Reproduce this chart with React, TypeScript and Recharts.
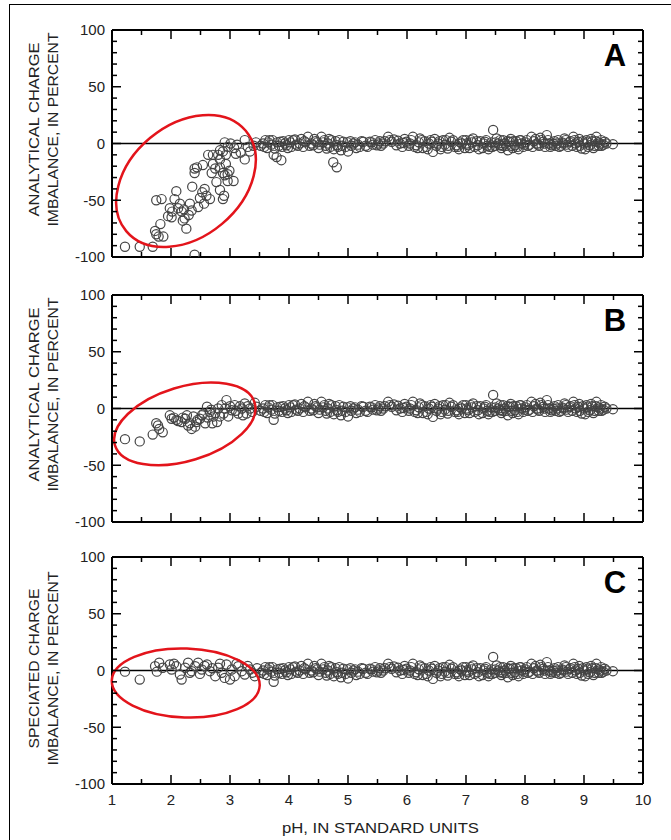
import React from 'react';
import { ScatterChart, Scatter, XAxis, YAxis, ReferenceLine, ReferenceDot } from 'recharts';

const FONT = '"Liberation Sans", Arial, Helvetica, sans-serif';

// ---- axis ticks ----
const xTickValues = [1, 1.5, 2, 2.5, 3, 3.5, 4, 4.5, 5, 5.5, 6, 6.5, 7, 7.5, 8, 8.5, 9, 9.5, 10];
const xLabelValues = [1, 2, 3, 4, 5, 6, 7, 8, 9, 10];
const yTickValues = [-100, -90, -80, -70, -60, -50, -40, -30, -20, -10, 0, 10, 20, 30, 40, 50, 60, 70, 80, 90, 100];
const yLabelValues = [-100, -50, 0, 50, 100];

// ---- data: [pH, imbalance %] ----
const neutralPoints: [number, number][] = [
  [3.52, -2], [3.56, 0], [3.6, 3], [3.63, -4], [3.67, 2.9], [3.7, -1], [3.74, -10], [3.76, -4.4], [3.8, 1], [3.85, 1.5],
  [3.88, -3], [3.93, 0], [3.96, -1.5], [4.0, 3], [4.04, -3], [4.07, 2.9], [4.12, -1], [4.18, 0], [4.21, 4], [4.24, -3],
  [4.28, 1], [4.32, 5.9], [4.35, -2], [4.41, -1.5], [4.45, 2], [4.5, -4], [4.55, 5.9], [4.58, 1], [4.62, -2], [4.64, -4.4],
  [4.68, 4], [4.72, 2.9], [4.76, -5], [4.81, -1.5], [4.85, 3], [4.88, -6], [4.92, 1.5], [4.96, -3], [5.0, -7], [5.04, 2],
  [5.09, 0], [5.14, -4], [5.2, -3], [5.26, 1.5], [5.3, -2], [5.37, 1.5], [5.42, -1], [5.46, 3], [5.51, 0], [5.56, -2],
  [5.62, 2], [5.68, 5.9], [5.74, 1.5], [5.78, 3.5], [5.82, -1.5], [5.88, 0], [5.92, -3], [5.96, 4], [5.99, 1.5], [6.03, -2],
  [6.07, 3], [6.1, 5.9], [6.13, -3], [6.16, -1.5], [6.2, 1], [6.22, 4.4], [6.27, -4], [6.3, 2], [6.33, -3], [6.37, 0],
  [6.42, 1.5], [6.44, -7.4], [6.47, 4], [6.5, -2], [6.53, 0], [6.57, -5], [6.61, 2.9], [6.64, -1], [6.69, -4.4], [6.72, 5],
  [6.75, 1.5], [6.78, 2.9], [6.81, -3], [6.84, -1.5], [6.86, -3], [6.9, 1], [6.95, 2.9], [6.98, -4], [7.01, 0], [7.04, -1.5],
  [7.08, 3], [7.12, 4.4], [7.15, -3], [7.2, -1.5], [7.24, 2], [7.28, -4], [7.32, 1.5], [7.36, -2], [7.4, -3], [7.43, 1],
  [7.46, 12], [7.49, -2], [7.52, 4.4], [7.55, 0], [7.57, -1.5], [7.6, -4], [7.63, 2.9], [7.66, 0], [7.68, -2], [7.71, -6],
  [7.74, 1.5], [7.77, -2], [7.8, 2], [7.83, -1.5], [7.87, -3], [7.91, 2.9], [7.94, 0], [7.97, -3], [8.01, 1], [8.05, -2],
  [8.11, 5.9], [8.15, 2], [8.2, 0], [8.24, -2], [8.28, 3], [8.31, 1.5], [8.34, -3], [8.37, 7.4], [8.41, 0], [8.45, -1.5],
  [8.5, 2], [8.54, 0], [8.58, -3], [8.63, 1], [8.67, 4.4], [8.7, -1], [8.73, -3], [8.77, 2], [8.82, 5.9], [8.86, 0],
  [8.9, 1.5], [8.93, -2], [8.96, -4.4], [9.0, 0], [9.04, 2.9], [9.07, -3], [9.1, -1.5], [9.14, 2], [9.18, -2], [9.21, 5.9],
  [9.24, 1], [9.27, 0], [9.3, -2], [9.35, 1.5], [9.49, -0.6],
];

const neutralMore: [number, number][] = [
  [3.58, -3], [3.65, 1], [3.72, 3], [3.83, -2], [3.9, 2], [3.98, -4], [4.02, 1], [4.1, 3.5], [4.15, -2], [4.26, 2],
  [4.38, 0], [4.43, 4], [4.48, 1], [4.52, -1], [4.6, 3], [4.66, 0], [4.7, -3], [4.79, 2], [4.83, -3], [4.9, -2],
  [4.99, 1], [5.06, -2], [5.12, 1], [5.17, -1], [5.23, 2], [5.33, -3], [5.4, 1], [5.49, -1.5], [5.54, 2], [5.6, 0],
  [5.71, 3], [5.85, 2.5], [5.94, 0.5], [6.05, 0], [6.18, -4], [6.25, 3], [6.35, -5], [6.4, 3], [6.55, 2], [6.59, -3],
  [6.66, 3], [6.7, -2], [6.88, -5], [6.93, 0], [7.0, 3], [7.06, -4], [7.1, 1], [7.18, 2], [7.22, -5], [7.3, 0],
  [7.34, 3], [7.38, -5], [7.45, -3], [7.5, 1], [7.58, 3], [7.62, -2], [7.7, 2], [7.76, 4], [7.79, -4], [7.85, 2],
  [7.89, -5], [7.93, 3], [7.99, -1], [8.03, 3], [8.08, -1], [8.13, -3], [8.18, 4], [8.22, -1], [8.26, 5], [8.33, 0],
  [8.39, 3], [8.43, -3], [8.48, 0], [8.52, -2], [8.56, 3], [8.61, -2], [8.65, 0], [8.69, 3], [8.75, 1], [8.8, -2],
  [8.84, 3], [8.88, -3], [8.92, 4], [8.98, 2], [9.02, -5], [9.06, 1], [9.12, 4], [9.16, -4], [9.2, 2], [9.25, -2],
  [9.29, 3], [9.33, -1], [9.38, 0],
];

const acidA: [number, number][] = [
  [1.22, -91], [1.47, -91], [1.69, -91], [2.4, -98], [1.73, -77], [1.75, -80], [1.79, -82], [1.87, -82], [1.82, -71],
  [1.75, -50], [1.84, -49], [2.09, -42], [2.06, -49], [1.98, -57], [2.01, -65], [1.95, -64], [2.02, -60], [2.12, -57],
  [2.15, -53], [2.18, -60], [2.26, -75], [2.23, -66], [2.2, -68], [2.22, -58], [2.3, -63], [2.32, -53], [2.35, -59],
  [2.36, -38], [2.4, -26], [2.44, -21], [2.4, -22], [2.54, -19], [2.63, -10], [2.49, -48], [2.53, -43], [2.57, -40],
  [2.46, -56], [2.6, -46], [2.56, -53], [2.66, -49], [2.71, -18], [2.69, -26], [2.75, -22], [2.77, -34], [2.83, -41],
  [2.88, -49], [2.9, -46], [2.8, -10], [2.83, -14], [2.88, -26], [2.93, -18], [2.91, -28], [2.96, -27], [2.99, -24],
  [2.96, -33], [3.06, -33], [2.83, -6], [2.88, -7], [2.93, -10], [2.91, 1], [2.96, -3], [3.01, 0], [3.07, -4],
  [3.12, -1], [3.1, -9], [3.18, -8], [3.25, 3], [3.25, -14], [3.3, -3], [3.34, -7], [3.4, -2], [3.44, 1], [2.83, -21],
  [2.71, -10],
];
const extraA: [number, number][] = [[3.79, -12], [3.87, -14.7], [4.75, -16.5], [4.81, -21]];

const acidB: [number, number][] = [
  [1.22, -27], [1.47, -29], [1.69, -23], [1.75, -13], [1.78, -15], [1.8, -18], [1.86, -21], [1.98, -6], [2.01, -9],
  [2.05, -8], [2.09, -10], [2.12, -11], [2.18, -12], [2.2, -8], [2.24, -9], [2.27, -6], [2.29, -15], [2.32, -13],
  [2.35, -18], [2.38, -7], [2.41, -16], [2.43, -12], [2.45, -10], [2.49, -9], [2.52, -6], [2.55, -4.5], [2.58, -13],
  [2.61, 1.5], [2.62, -8], [2.66, -3], [2.68, -1], [2.7, -13], [2.72, -7], [2.75, -4], [2.78, -12], [2.8, 0],
  [2.83, -7], [2.86, 3], [2.89, -4.5], [2.92, 0], [2.94, 7.4], [2.97, -7], [3.0, 2], [3.03, -1.5], [3.08, 3],
  [3.1, -2], [3.14, -4.5], [3.17, 2], [3.2, 0], [3.22, -6], [3.25, 4.4], [3.28, -4.5], [3.3, 2], [3.34, 0],
  [3.38, -3], [3.42, 5], [3.45, 1.5],
];

const acidC: [number, number][] = [
  [1.22, -1], [1.47, -8], [1.73, 3.8], [1.76, -1], [1.8, 6.8], [1.86, 2.4], [1.98, 5.3], [2.01, 0.9], [2.05, 6],
  [2.09, 3.8], [2.15, -3.5], [2.18, -8], [2.24, 2.4], [2.29, 6.8], [2.32, -2], [2.35, -0.6], [2.41, 3.8], [2.46, 6.8],
  [2.49, -3], [2.52, 0.9], [2.57, 4], [2.61, 5.3], [2.66, -0.6], [2.7, 2], [2.75, -5], [2.8, 2.4], [2.83, 6],
  [2.86, -2], [2.91, -6.5], [2.94, 5.3], [3.0, -8], [3.03, 0.9], [3.08, -5], [3.11, 6], [3.14, 3.8], [3.2, -0.6],
  [3.25, -3.5], [3.3, 4], [3.34, 0.9], [3.38, -2], [3.42, -5], [3.46, 2],
];

const toPts = (arr: [number, number][]) => arr.map(([x, y]) => ({ x, y }));
const dataA = toPts([...acidA, ...extraA, ...neutralPoints, ...neutralMore]);
const dataB = toPts([...acidB, ...neutralPoints, ...neutralMore]);
const dataC = toPts([...acidC, ...neutralPoints, ...neutralMore]);

const PLOT_W = 531;
const PLOT_H = 227;

const XTick = (p: any) => {
  const { x, y, payload, showLabel } = p;
  const v = payload.value;
  const major = xLabelValues.includes(v);
  const len = major ? 9 : 5;
  return (
    <g>
      <line x1={x} y1={y} x2={x} y2={y - len} stroke="#000" strokeWidth={1.5} />
      <line x1={x} y1={y - PLOT_H} x2={x} y2={y - PLOT_H + len} stroke="#000" strokeWidth={1.5} />
      {showLabel && major && (
        <text x={x} y={y + 21} textAnchor="middle" fontSize={15} fill="#222" fontFamily={FONT}>{v}</text>
      )}
    </g>
  );
};

const YTick = (p: any) => {
  const { x, y, payload } = p;
  const v = payload.value;
  const major = yLabelValues.includes(v);
  const len = major ? 9 : 5;
  return (
    <g>
      <line x1={x} y1={y} x2={x + len} y2={y} stroke="#000" strokeWidth={1.5} />
      <line x1={x + PLOT_W} y1={y} x2={x + PLOT_W - len} y2={y} stroke="#000" strokeWidth={1.5} />
      {major && (
        <text x={x - 7} y={y} dy="0.35em" textAnchor="end" fontSize={15} fill="#222" fontFamily={FONT}>{v}</text>
      )}
    </g>
  );
};

const YTitle = (props: any) => {
  const vb = props.viewBox && props.viewBox.height ? props.viewBox : { x: 0, y: 30, width: 112, height: PLOT_H };
  const cy = vb.y + vb.height / 2 + props.shift;
  return (
    <g>
      {props.lines.map((l: { text: string; len: number }, i: number) => {
        const cx = 34 + i * 19;
        return (
          <text key={i} x={cx} y={cy} dy="0.35em" transform={`rotate(-90, ${cx}, ${cy})`} textAnchor="middle"
            fontSize={15} fill="#222" fontFamily={FONT} textLength={l.len} lengthAdjust="spacingAndGlyphs">{l.text}</text>
        );
      })}
    </g>
  );
};

const XTitle = (props: any) => {
  const vb = props.viewBox && props.viewBox.width ? props.viewBox : { x: 112, y: 557 + PLOT_H, width: PLOT_W, height: 56 };
  return (
    <text x={vb.x + vb.width / 2 + 3} y={vb.y + 49} textAnchor="middle" fontSize={15} fill="#222" fontFamily={FONT}
      textLength={197} lengthAdjust="spacingAndGlyphs">pH, IN STANDARD UNITS</text>
  );
};

type Ell = { x: number; y: number; rx: number; ry: number; rot: number };

const Panel = ({ top, letter, data, lines, shift, showX, ell }:
  { top: number; letter: string; data: { x: number; y: number }[]; lines: { text: string; len: number }[]; shift: number; showX: boolean; ell: Ell }) => {
  const xAxisH = showX ? 56 : 16;
  const height = 30 + PLOT_H + xAxisH;
  const frame = { stroke: '#000', strokeWidth: 2 };
  return (
    <div style={{ position: 'absolute', left: 0, top }}>
      <ScatterChart width={671} height={height} margin={{ top: 30, right: 28, bottom: 0, left: 0 }}>
        <XAxis type="number" dataKey="x" domain={[1, 10]} ticks={xTickValues} interval={0} allowDataOverflow
          tickSize={0} tickMargin={0} axisLine={false} tickLine={false} height={xAxisH}
          tick={(p: any) => <XTick {...p} showLabel={showX} />}
          label={showX ? <XTitle /> : undefined} />
        <YAxis type="number" dataKey="y" domain={[-100, 100]} ticks={yTickValues} interval={0} allowDataOverflow
          width={112} tickSize={0} tickMargin={0} axisLine={false} tickLine={false}
          tick={(p: any) => <YTick {...p} />}
          label={<YTitle lines={lines} shift={shift} />} />
        <ReferenceLine y={0} stroke="#000" strokeWidth={1.6} />
        <ReferenceLine y={100} {...frame} />
        <ReferenceLine y={-100} {...frame} />
        <ReferenceLine x={1} {...frame} />
        <ReferenceLine x={10} {...frame} />
        <Scatter data={data} isAnimationActive={false}
          shape={(p: any) => <circle cx={p.cx} cy={p.cy} r={4.6} fill="none" stroke="#444" strokeWidth={1.2} />} />
        <ReferenceDot x={ell.x} y={ell.y} r={1} ifOverflow="visible"
          shape={(p: any) => (
            <ellipse cx={p.cx} cy={p.cy} rx={ell.rx} ry={ell.ry} transform={`rotate(${ell.rot}, ${p.cx}, ${p.cy})`}
              fill="none" stroke="#e3141b" strokeWidth={2.5} />
          )} />
        <ReferenceDot x={10} y={100} r={1} ifOverflow="visible"
          shape={(p: any) => (
            <text x={p.cx - 28} y={p.cy + 36} textAnchor="middle" fontSize={31} fontWeight="bold" fill="#000" fontFamily={FONT}>{letter}</text>
          )} />
      </ScatterChart>
    </div>
  );
};

const analytical = [
  { text: 'ANALYTICAL CHARGE', len: 174 },
  { text: 'IMBALANCE, IN PERCENT', len: 194 },
];
const speciated = [
  { text: 'SPECIATED CHARGE', len: 160 },
  { text: 'IMBALANCE, IN PERCENT', len: 194 },
];

export default function App() {
  return (
    <div style={{ position: 'absolute', left: 0, top: 0, width: 671, height: 840, background: '#fff', overflow: 'hidden' }}>
      <div style={{ position: 'absolute', left: 9, top: 4, width: 662, height: 836, borderTop: '1.5px solid #000', borderLeft: '1.5px solid #000', boxSizing: 'border-box' }} />
      <Panel top={0} letter="A" data={dataA} lines={analytical} shift={-14} showX={false}
        ell={{ x: 2.254, y: -33, rx: 78, ry: 56, rot: -40 }} />
      <Panel top={265} letter="B" data={dataB} lines={analytical} shift={-14} showX={false}
        ell={{ x: 2.234, y: -13.6, rx: 73, ry: 37, rot: -17 }} />
      <Panel top={527} letter="C" data={dataC} lines={speciated} shift={-2} showX={true}
        ell={{ x: 2.25, y: -11, rx: 74, ry: 34.5, rot: 2 }} />
    </div>
  );
}
